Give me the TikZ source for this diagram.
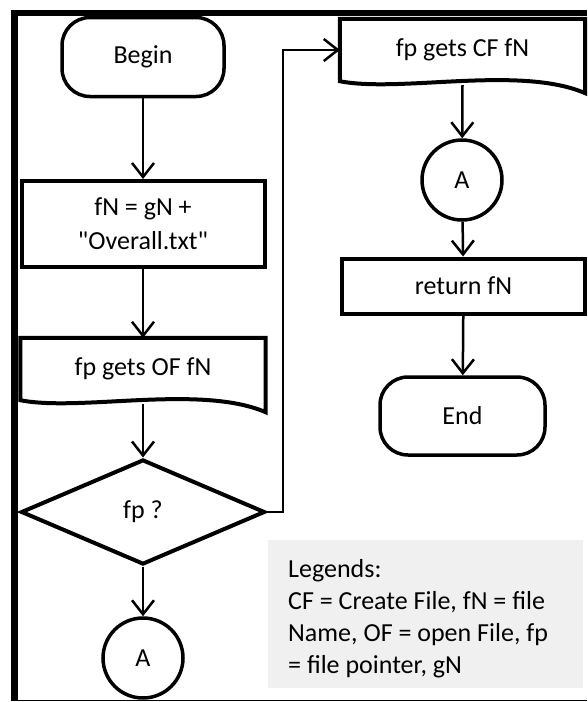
\documentclass[tikz,border=0pt]{standalone}
\usepackage{fontspec}
\setmainfont{Carlito}[Ligatures=TeXOff]
\usetikzlibrary{shapes.geometric,arrows.meta}
\begin{document}
\begin{tikzpicture}[x=1pt,y=-1pt,
  every node/.style={font=\fontsize{26}{34}\selectfont, inner sep=0pt},
  term/.style={draw, line width=3.5pt, rounded corners=28pt, minimum width=162pt, minimum height=79pt},
  proc/.style={draw, line width=4pt, minimum width=243pt, minimum height=86pt, align=center},
  docbox/.style={minimum width=245pt, minimum height=62pt},
  decide/.style={draw, diamond, line width=4pt, minimum width=244pt, minimum height=105pt},
  conn/.style={draw, circle, line width=3.5pt, minimum size=80pt},
  flow/.style={line width=2.5pt, -{Straight Barb[length=14pt,width=22pt,line width=2.5pt]}},
  shapeline/.style={line width=4pt, line join=miter}
]
\useasboundingbox (0,0) rectangle (587,702);
% frame
\draw[line width=6pt] (11,13) -- (587,13);
\draw[line width=7pt] (14.5,10) -- (14.5,701);
\draw[line width=1.5pt] (11,700.5) -- (587,700.5);

% left column
\node[term] (begin) at (143,57) {Begin};
\node[proc] (fn) at (143,224) {fN = gN +\\"Overall.txt"};
\node[docbox] (of) at (143,369) {};
\node (oftext) at (143,369) {fp gets OF fN};
\draw[shapeline] (of.south west) -- (of.north west) -- (of.north east) -- ([yshift=-12pt]of.south east)
  .. controls (200,384) and (80,412) .. (of.south west) -- cycle;
\node[decide] (dec) at (143,512) {fp ?};
\node[conn] (a1) at (143,658) {A};

% right column
\node[docbox] (cf) at (462.5,50) {};
\node (cftext) at (462.5,50) {fp gets CF fN};
\draw[shapeline] (cf.south west) -- (cf.north west) -- (cf.north east) -- ([yshift=-12pt]cf.south east)
  .. controls (520,65) and (400,93) .. (cf.south west) -- cycle;
\node[conn] (a2) at (462,180) {A};
\node[proc, minimum width=243pt, minimum height=55pt] (ret) at (463.5,286) {return fN};
\node[term, minimum width=165pt, minimum height=78pt] (end) at (462.5,416) {End};

% connectors
\draw[flow] (begin) -- (fn);
\draw[flow] (fn) -- (of.north);
\draw[flow] ([yshift=-4pt]of.south) -- (dec);
\draw[flow] (dec) -- (a1);
\coordinate (turn) at (283,512);
\draw[flow] (dec.east) -- (turn) |- (cf.west);
\draw[flow] ([yshift=-4pt]cf.south) -- (a2);
\draw[flow] (a2) -- (ret);
\draw[flow] (ret) -- (end);

% legend
\node[fill=black!6, minimum width=315pt, minimum height=148pt, anchor=north west] (legbox) at (268,540) {};
\node[anchor=base west, align=left, font=\fontsize{26}{32}\selectfont] (legtext) at (288,673)
  {Legends:\\CF = Create File, fN = file\\Name, OF = open File, fp\\= file pointer, gN};
\end{tikzpicture}
\end{document}
